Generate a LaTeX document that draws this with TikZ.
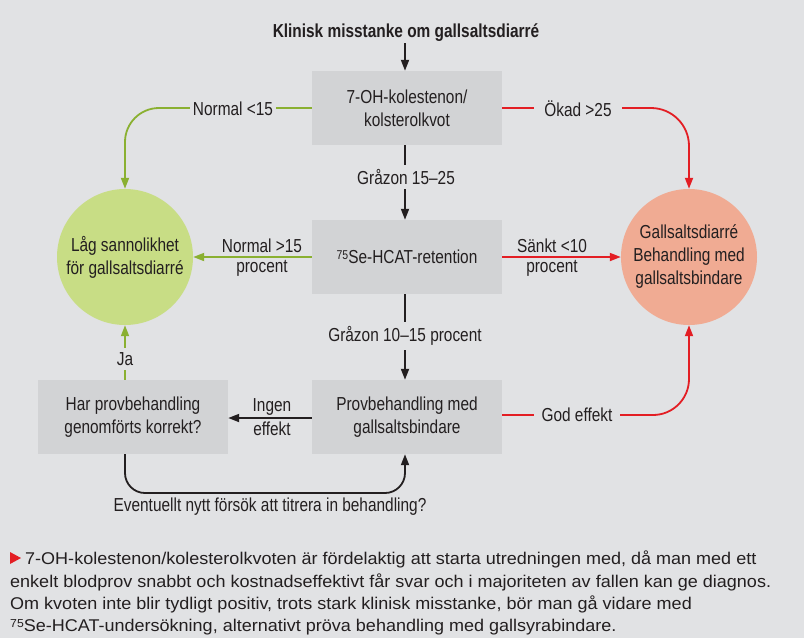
\documentclass[tikz,border=0pt]{standalone}
\usepackage{fontspec}
\setmainfont{Liberation Sans}
\newfontfamily\diagfont{Liberation Sans}[FakeStretch=0.82]
\newfontfamily\capfont{Liberation Sans}[FakeStretch=1.06]
\usetikzlibrary{arrows.meta}
\newcommand\mysupnum[1]{\raisebox{0.22em}{\scalebox{0.68}{#1}}}
\definecolor{bg}{HTML}{E1E2E4}
\definecolor{boxgray}{HTML}{D2D3D5}
\definecolor{txt}{HTML}{231F20}
\definecolor{gline}{HTML}{8AB031}
\definecolor{gfill}{HTML}{C8DD85}
\definecolor{rline}{HTML}{E31E24}
\definecolor{rfill}{HTML}{F0AB93}
\tikzset{
  box/.style={fill=boxgray, minimum width=190pt, minimum height=74pt, align=center, inner sep=0pt, text=txt},
  circ/.style={circle, minimum size=136pt, inner sep=0pt, align=center, text=txt},
  tipend/.style={-{Triangle[length=11pt,width=8pt]}},
  kconn/.style={draw=txt, line width=1.8pt, tipend},
  gconn/.style={draw=gline, line width=1.8pt, tipend},
  rconn/.style={draw=rline, line width=1.8pt, tipend},
  lab/.style={text=txt, inner ysep=1pt, align=center},
  flab/.style={lab, fill=bg, inner ysep=4pt},
  captext/.style={font=\capfont\fontsize{17}{22}\selectfont, text=txt, anchor=base west, inner sep=0pt}
}
\begin{document}
\begin{tikzpicture}[x=1pt,y=-1pt,font=\diagfont\fontsize{18.8}{23}\selectfont]
\fill[bg] (0,0) rectangle (804,638);
\useasboundingbox (0,0) rectangle (804,638);
\coordinate (vx) at (405,0);
\coordinate (loopy) at (0,493);

\node[lab, font=\diagfont\bfseries\fontsize{18.8}{23}\selectfont] (title) at (406,33) {Klinisk misstanke om gallsaltsdiarré};
\node[box] (b1) at (407,108) {7-OH-kolestenon/\\kolsterolkvot};
\node[box] (b2) at (407,257) {\mysupnum{75}Se-HCAT-retention};
\node[box] (b3) at (407,417) {Provbehandling med\\gallsaltsbindare};
\node[box] (b4) at (133,417) {Har provbehandling\\genomförts korrekt?};
\node[circ, fill=gfill] (low) at (125,257) {Låg sannolikhet\\för gallsaltsdiarré};
\node[circ, fill=rfill] (high) at (689,257) {Gallsaltsdiarré\\Behandling med\\gallsaltsbindare};

% black
\draw[kconn] (title.south -| vx) -- (b1.north -| vx);
\draw[kconn] (b1.south -| vx) -- (b2.north -| vx);
\draw[kconn] (b2.south -| vx) -- (b3.north -| vx);
\draw[kconn] (b3.west |- 0,418) -- (b4.east |- 0,418);
\draw[kconn, rounded corners=20pt] (b4.south -| low) -- (low |- loopy) -- (vx |- loopy) -- (b3.south -| vx);

% green
\draw[gconn, rounded corners=34pt] (b1.west) -| (low.north);
\draw[gconn] (b2.west) -- (low.east);
\draw[gconn] (b4.north -| low) -- (low.south);

% red
\draw[rconn, rounded corners=38pt] (b1.east) -| (high.north);
\draw[rconn] (b2.east) -- (high.west);
\draw[rconn, rounded corners=36pt] (b3.east |- 0,415) -| (high.south);

% labels
\node[flab, inner xsep=3pt] (l1) at (233,109) {Normal <15};
\node[flab, inner xsep=10pt] (l2) at (578,109) {Ökad >25};
\node[flab] (l3) at (406,177) {Gråzon 15–25};
\node[flab] (l4) at (405,336) {Gråzon 10–15 procent};
\node[lab] (l5a) at (262,246) {Normal >15};
\node[lab] (l5b) at (262,268) {procent};
\node[lab] (l6a) at (552,246) {Sänkt <10};
\node[lab] (l6b) at (552,268) {procent};
\node[lab] (l7a) at (272,407) {Ingen};
\node[lab] (l7b) at (272,429) {effekt};
\node[flab, inner xsep=8pt] (l8) at (577,415) {God effekt};
\node[flab] (l9) at (125,359) {Ja};
\node[lab] (l10) at (270,507) {Eventuellt nytt försök att titrera in behandling?};

% caption
\fill[rline] (10,552) -- (21,558) -- (10,564) -- cycle;
\node[captext] (c1) at (25,564) {7-OH-kolestenon/kolesterolkvoten är fördelaktig att starta utredningen med, då man med ett};
\node[captext] (c2) at (10,587) {enkelt blodprov snabbt och kostnadseffektivt får svar och i majoriteten av fallen kan ge diagnos.};
\node[captext] (c3) at (10,609) {Om kvoten inte blir tydligt positiv, trots stark klinisk misstanke, bör man gå vidare med};
\node[captext] (c4) at (10,631) {\mysupnum{75}Se-HCAT-undersökning, alternativt pröva behandling med gallsyrabindare.};
\end{tikzpicture}
\end{document}
